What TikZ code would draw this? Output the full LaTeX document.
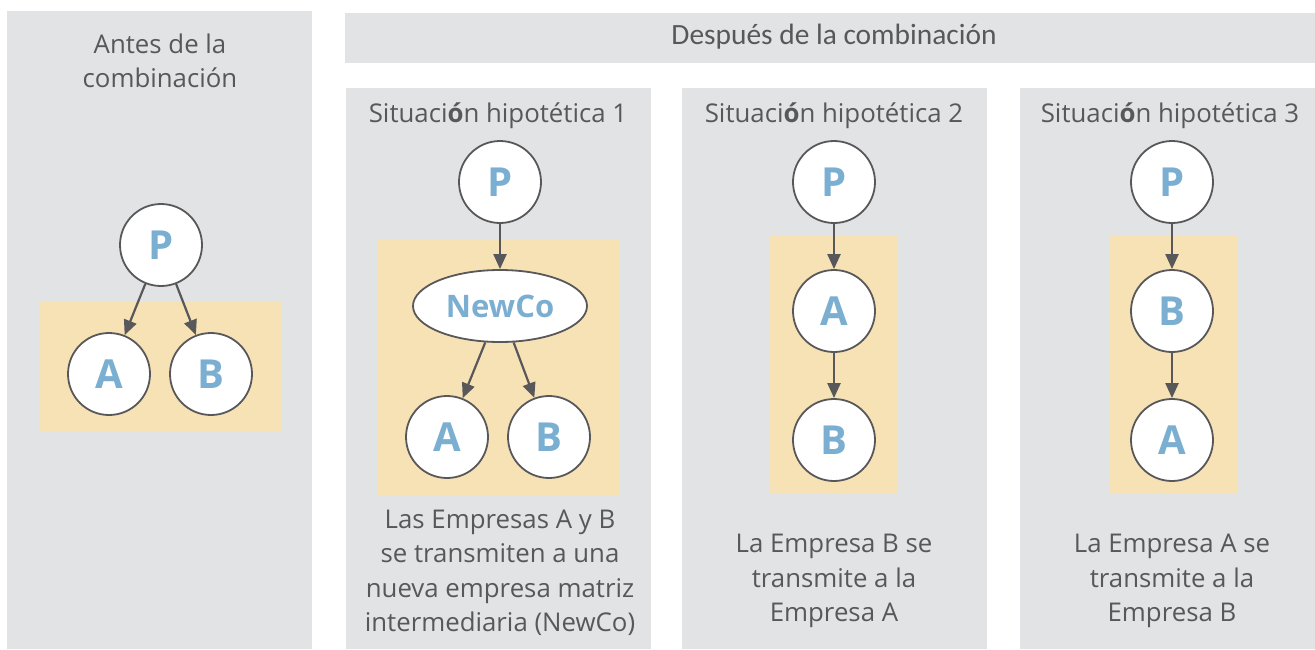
\documentclass[tikz,border=0pt]{standalone}
\usepackage{fontspec}
\setmainfont{Open Sans}
\newfontfamily\hdrfont{Carlito}
\usetikzlibrary{arrows.meta,shapes.geometric}
\definecolor{panelgray}{HTML}{E2E3E5}
\definecolor{heldfill}{HTML}{F7E2B6}
\definecolor{inkgray}{HTML}{58585A}
\definecolor{letterblue}{HTML}{7BAFD2}
\begin{document}
\begin{tikzpicture}[x=1pt,y=-1pt,
    panel/.style={fill=panelgray},
    held/.style={fill=heldfill},
    ent/.style={circle,draw=inkgray,line width=1.8pt,fill=white,minimum size=82pt,inner sep=0pt,
      text=letterblue,font=\fontsize{40}{42}\selectfont\bfseries},
    note/.style={text=inkgray,align=center,font=\fontsize{25.8}{34.5}\selectfont},
    own/.style={draw=inkgray,line width=2.2pt,-{Triangle[length=15pt,width=13pt]}}]
  \useasboundingbox (0,0) rectangle (1315,649);
  %% panels
  \fill[panel] (7,11) rectangle (312,649);
  \fill[panel] (345,13) rectangle (1315,63);
  \fill[panel] (346,88) rectangle (651,649);
  \fill[panel] (682,88) rectangle (987,649);
  \fill[panel] (1020,88) rectangle (1315,649);
  %% companies combined
  \fill[held] (39,302) rectangle (281,432);
  \fill[held] (377,240) rectangle (619,495);
  \fill[held] (770,235) rectangle (897,494);
  \fill[held] (1109,235) rectangle (1237,494);
  %% titles
  \node[note] (before) at (160,61) {Antes de la\\combinación};
  \node[text=inkgray,font=\hdrfont\fontsize{29.4}{31}\selectfont] (after) at (834,37) {Después de la combinación};
  \foreach \i/\cx in {1/498,2/834,3/1170}
    \node[note] (title\i) at (\cx,116) {Situaci\textbf{ó}n hipotética \i};
  %% before
  \node[ent] (p0) at (161,245) {P};
  \node[ent] (a0) at (109,374) {A};
  \node[ent] (b0) at (211,374) {B};
  \draw[own] (p0) -- (a0);
  \draw[own] (p0) -- (b0);
  %% situation 1
  \node[ent] (p1) at (500,182) {P};
  \node[ent,ellipse,minimum width=174pt,minimum height=72pt,font=\fontsize{31}{33}\selectfont\bfseries] (newco) at (500,306) {NewCo};
  \node[ent] (a1) at (447,437) {A};
  \node[ent] (b1) at (549,437) {B};
  \draw[own] (p1) -- (newco);
  \draw[own] (newco) -- (a1);
  \draw[own] (newco) -- (b1);
  \node[note] (text1) at (500,573) {Las Empresas A y B\\se transmiten a una\\nueva empresa matriz\\intermediaria (NewCo)};
  %% situation 2
  \node[ent] (p2) at (834,182) {P};
  \node[ent] (a2) at (834,311) {A};
  \node[ent] (b2) at (834,440) {B};
  \draw[own] (p2) -- (a2);
  \draw[own] (a2) -- (b2);
  \node[note] (text2) at (834,581) {La Empresa B se\\transmite a la\\Empresa A};
  %% situation 3
  \node[ent] (p3) at (1172,182) {P};
  \node[ent] (b3) at (1172,311) {B};
  \node[ent] (a3) at (1172,440) {A};
  \draw[own] (p3) -- (b3);
  \draw[own] (b3) -- (a3);
  \node[note] (text3) at (1172,581) {La Empresa A se\\transmite a la\\Empresa B};
\end{tikzpicture}
\end{document}
